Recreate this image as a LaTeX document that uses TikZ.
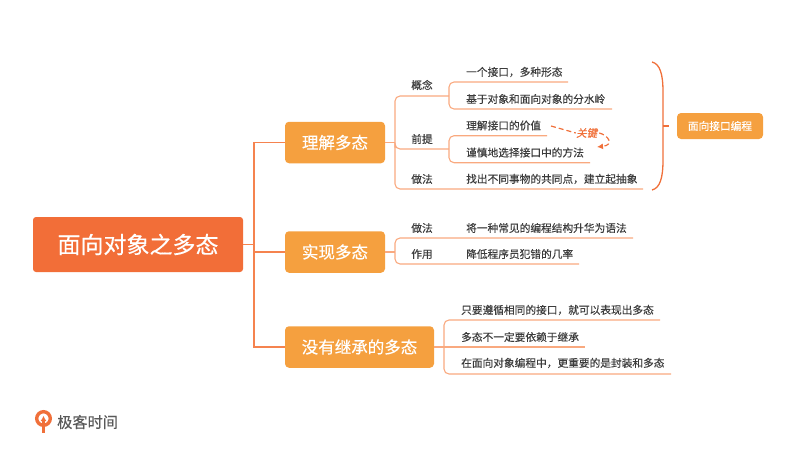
\documentclass[tikz,border=0pt]{standalone}
\usepackage{fontspec}
\setmainfont[FakeBold=0.35]{Noto Sans CJK SC}
\usepackage{xcolor}
\usetikzlibrary{arrows.meta, positioning}
\definecolor{rootfill}{HTML}{F26E38}
\definecolor{topicfill}{HTML}{F5A03F}
\definecolor{trunkline}{HTML}{F5834F}
\definecolor{twigline}{HTML}{F9A97F}
\definecolor{inktext}{HTML}{3C3C3C}
\definecolor{accent}{HTML}{F0703A}

\begin{document}
\begin{tikzpicture}[
        x=1pt, y=-1pt,
        >=Latex,
        rootbox/.style={fill=rootfill, text=white, rounded corners=3pt, minimum width=210pt, minimum height=55pt, font=\fontsize{23}{23}\selectfont},
        topicbox/.style={fill=topicfill, text=white, rounded corners=4pt, minimum height=41.5pt, font=\fontsize{16.5}{17}\selectfont},
        tagbox/.style={fill=topicfill, text=white, rounded corners=4pt, minimum width=86pt, minimum height=26pt, font=\fontsize{10.7}{11}\selectfont},
        heading/.style={text=inktext, inner sep=0pt, font=\fontsize{10.7}{11}\selectfont},
        leaf/.style={text=inktext, anchor=west, inner sep=0pt, font=\fontsize{10.7}{11}\selectfont},
        trunk/.style={draw=trunkline, line width=1.6pt},
        twig/.style={draw=twigline, line width=1.1pt, rounded corners=5pt},
        brace/.style={draw=accent, line width=1.3pt},
        remark/.style={draw=accent, line width=1.2pt, dash pattern=on 5pt off 3pt}
    ]
        \useasboundingbox (0,0) rectangle (790,452);

        \node[rootbox] (root) at (138,244.5) {面向对象之多态};
        \node[topicbox, minimum width=100pt] (understand) at (335,142.5) {理解多态};
        \node[topicbox, minimum width=100pt] (realize) at (335,252) {实现多态};
        \node[topicbox, minimum width=149pt] (noinherit) at (359.5,347) {没有继承的多态};
        \node[tagbox] (interface) at (720,126) {面向接口编程};

        % first topic
        \node[heading] (concept) at (422,85) {概念};
        \node[heading] (premise) at (422,139) {前提};
        \node[heading] (method) at (422,179) {做法};
        \node[leaf] (oneface) at (466,72) {一个接口，多种形态};
        \node[leaf] (watershed) at (466,99) {基于对象和面向对象的分水岭};
        \node[leaf] (worth) at (466,125.5) {理解接口的价值};
        \node[leaf] (careful) at (466,152.5) {谨慎地选择接口中的方法};
        \node[leaf] (abstract) at (466,179) {找出不同事物的共同点，建立起抽象};

        % second topic
        \node[heading] (howto) at (422,228) {做法};
        \node[heading] (effect) at (422,254) {作用};
        \node[leaf] (syntax) at (466,228) {将一种常见的编程结构升华为语法};
        \node[leaf] (errors) at (466,254) {降低程序员犯错的几率};

        % third topic
        \node[leaf] (sameface) at (461,310) {只要遵循相同的接口，就可以表现出多态};
        \node[leaf] (notdepend) at (461,337) {多态不一定要依赖于继承};
        \node[leaf] (encapsulate) at (461,363) {在面向对象编程中，更重要的是封装和多态};

        \coordinate (trunkjoint) at (254,244.5);
        \coordinate (understandjoint) at (395,142.5);
        \coordinate (conceptjoint) at (449,96);
        \coordinate (premisejoint) at (449,149);
        \coordinate (onefaceend) at (568,82);
        \coordinate (watershedend) at (612,109);
        \coordinate (worthend) at (547,135.7);
        \coordinate (carefulend) at (590,162.7);
        \coordinate (abstractend) at (643,189);
        \coordinate (realizejoint) at (395,252);
        \coordinate (syntaxend) at (633,238);
        \coordinate (errorsend) at (579,264);
        \coordinate (noinheritjoint) at (444,347);
        \coordinate (samefaceend) at (660,320);
        \coordinate (notdependend) at (585,347);
        \coordinate (encapsulateend) at (671,374);
        \coordinate (bracemid) at (663,126);
        \coordinate (bracetip) at (669,126);

        \draw[trunk] (root.east) -- (trunkjoint);
        \draw[trunk] (understand.west) -| (trunkjoint) |- (noinherit.west);
        \draw[trunk] (trunkjoint |- realize.west) -- (realize.west);

        \draw[twig] (understand.east) -- (understandjoint);
        \draw[twig] (conceptjoint) -| (understandjoint) |- (premisejoint);
        \draw[twig] (understandjoint) |- (abstractend);
        \draw[twig] (onefaceend) -| (conceptjoint) |- (watershedend);
        \draw[twig] (worthend) -| (premisejoint) |- (carefulend);

        \draw[twig] (realize.east) -- (realizejoint);
        \draw[twig] (syntaxend) -| (realizejoint) |- (errorsend);

        \draw[twig] (noinherit.east) -- (noinheritjoint);
        \draw[twig] (samefaceend) -| (noinheritjoint) |- (encapsulateend);
        \draw[twig] (noinheritjoint) -- (notdependend);

        \draw[brace] (652,62) .. controls (660,64) and (663,74) .. (663,92) -- (663,160) .. controls (663,178) and (660,188) .. (652,190);
        \draw[brace] (bracemid) -- (bracetip);

        \node[text=accent, inner sep=1pt, xslant=0.2, font=\fontsize{10.5}{11}\selectfont] (keypoint) at (587.5,133) {关键};
        \draw[remark] (551,126) -- (keypoint.west);
        \draw[remark, -{Latex[length=6pt,width=6pt]}] (keypoint.east) .. controls (608,135) and (615,145) .. (597,147);

        % logo
        \draw[draw=accent, line width=3.4pt] (43.5,418.5) circle (6.8pt);
        \draw[draw=accent, line width=2.4pt, ->, >={Latex[length=5pt,width=6pt]}] (43.5,432.5) -- (43.5,416);
        \node[text=black!65, inner sep=0pt, anchor=west, font=\fontsize{15.2}{16}\selectfont] (brand) at (57,422) {极客时间};
    \end{tikzpicture}
\end{document}
